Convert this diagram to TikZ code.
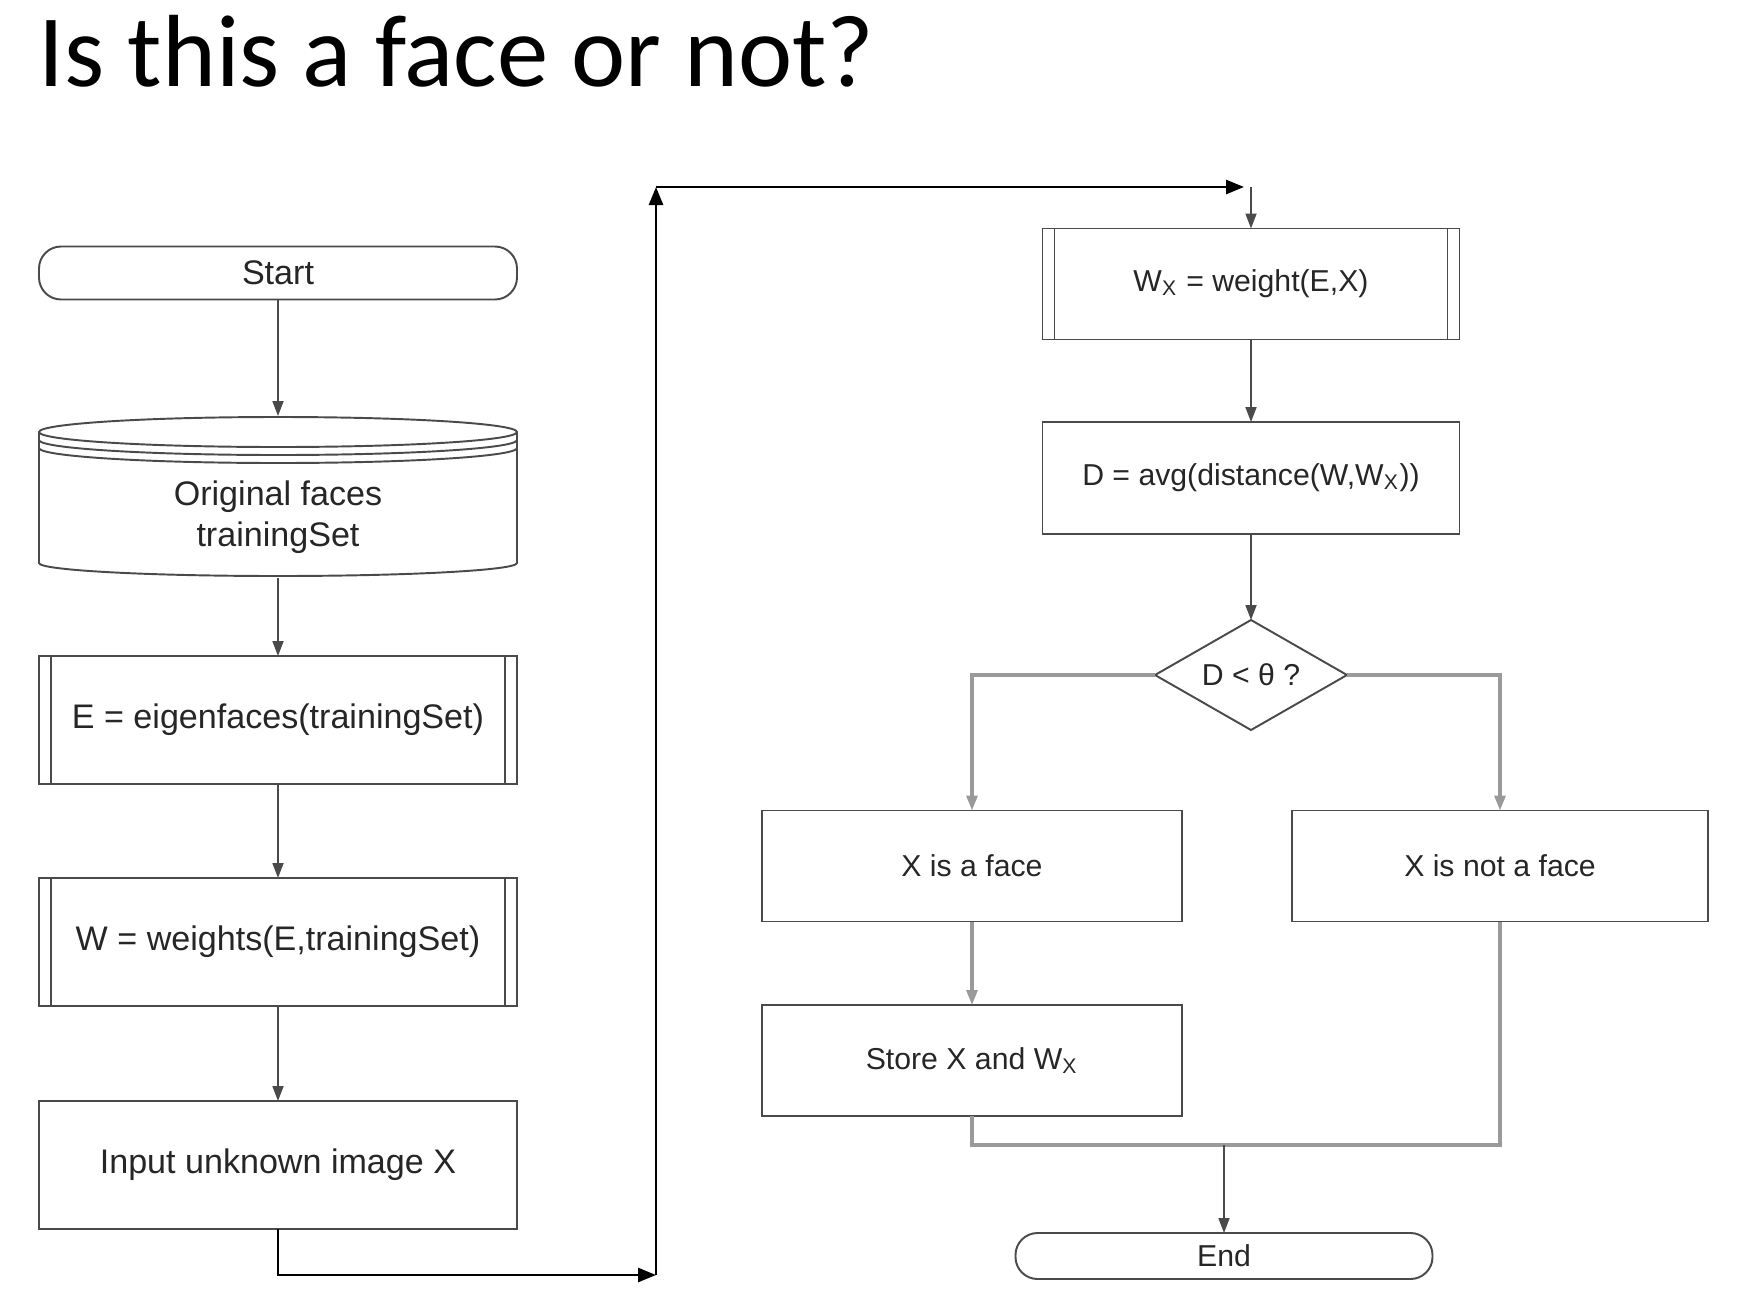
\documentclass[tikz,border=0pt]{standalone}
\usepackage{fontspec}
\setmainfont{Liberation Sans}
\newfontfamily\titlefont{Carlito}
\usepackage{tikz}
\usetikzlibrary{arrows.meta,positioning}
\usetikzlibrary{shapes.geometric}
\definecolor{eLine}{HTML}{4A4A4A}
\definecolor{eGrey}{HTML}{9A9A9A}
\definecolor{eText}{HTML}{262626}
\newcommand{\boxfont}{\fontsize{9.7}{11.7}\selectfont}
\newcommand{\rboxfont}{\fontsize{8.6}{10.4}\selectfont}
\tikzset{p/.style={rectangle, draw=eLine, line width=0.55pt, inner sep=0pt,
  outer sep=0pt, text=eText, font=\boxfont, align=center}}
\tikzset{pp/.style={p, path picture={
  \draw[eLine, line width=0.55pt]
    ([xshift=1.2mm]path picture bounding box.north west) -- ([xshift=1.2mm]path picture bounding box.south west)
    ([xshift=-1.2mm]path picture bounding box.north east) -- ([xshift=-1.2mm]path picture bounding box.south east);}}}
\tikzset{tt/.style={p, rounded corners=2.2mm}}
\tikzset{dd/.style={p, diamond, aspect=1.75}}
\tikzset{rr/.style={font=\rboxfont}}
\tikzset{ll/.style={draw=eLine, line width=0.55pt}}
\tikzset{a/.style={draw, eLine, line width=0.5pt, -{Triangle[length=1.5mm,width=1.1mm]}}}
\tikzset{aa/.style={draw, eGrey, line width=0.9pt}}
\tikzset{ag/.style={aa, -{Triangle[length=1.5mm,width=1.1mm]}}}
\tikzset{k/.style={draw, black, line width=0.75pt, -{Triangle[length=1.8mm,width=1.4mm]}}}

\begin{document}
\begin{tikzpicture}[x=0.1mm, y=-0.1mm]
    \useasboundingbox (0,0) rectangle (1748,1312);
    \node (title) at (38,86) [anchor=base west, inner sep=0pt,
        font=\titlefont\fontsize{29.2}{34}\selectfont] {Is this a face or not?};
    %% left column
    \node (start) at (278,273) [tt, minimum width=47.8mm, minimum height=5.3mm] {Start};
    \node (db) at (278,497) [p, draw=none, minimum width=47.8mm, minimum height=16.2mm] {};
    \node (dbtext) at (278,517) [p, draw=none] {Original faces\\trainingSet};
    \node (e) at (278,720) [pp, minimum width=47.8mm, minimum height=12.8mm] {E = eigenfaces(trainingSet)};
    \node (w) at (278,942) [pp, minimum width=47.8mm, minimum height=12.8mm] {W = weights(E,trainingSet)};
    \node (in) at (278,1165) [p, minimum width=47.8mm, minimum height=12.8mm] {Input unknown image X};
    %% database outline
    \draw [ll] (39,432) -- (39,563) arc [start angle=180, end angle=0, x radius=239, y radius=13] -- (517,432);
    \draw [ll] (278,432) ellipse [x radius=239, y radius=15];
    \draw [ll] (39,440) arc [start angle=180, end angle=0, x radius=239, y radius=15];
    \draw [ll] (39,448) arc [start angle=180, end angle=0, x radius=239, y radius=15];
    %% right column
    \node (wx) at (1251,284) [pp, rr, minimum width=41.7mm, minimum height=11.1mm] {W\textsubscript{X} = weight(E,X)};
    \node (d) at (1251,478) [p, rr, minimum width=41.7mm, minimum height=11.2mm] {D = avg(distance(W,W\textsubscript{X}))};
    \node (dec) at (1251,675) [dd, rr, minimum width=19.2mm, minimum height=11mm] {D < θ ?};
    \node (face) at (972,866) [p, rr, minimum width=42mm, minimum height=11.1mm] {X is a face};
    \node (notface) at (1500,866) [p, rr, minimum width=41.6mm, minimum height=11.1mm] {X is not a face};
    \node (store) at (972,1060.5) [p, rr, minimum width=42mm, minimum height=11.1mm] {Store X and W\textsubscript{X}};
    \node (end) at (1224,1256) [tt, rr, minimum width=41.7mm, minimum height=4.6mm] {End};
    %%
    \coordinate (c2) at (656,1275);
    \coordinate (c3) at (656,187);
    \coordinate (c4) at (1244,187);
    \coordinate (c5) at (1251,187);
    \coordinate (m1) at (972,1145);
    \coordinate (m2) at (1500,1145);
    \coordinate (m) at (1224,1145);
    %%
    \draw [a] (start) to (db);
    \draw [a] (db) to (e);
    \draw [a] (e) to (w);
    \draw [a] (w) to (in);
    %%
    \draw [k] (in) |- (c2);
    \draw [k] (c2) to (c3);
    \draw [k] (c3) to (c4);
    \draw [a] (c5) to (wx);
    %%
    \draw [a] (wx) to (d);
    \draw [a] (d) to (dec);
    \draw [ag] (dec.west) -| (face);
    \draw [ag] (dec.east) -| (notface);
    \draw [ag] (face) to (store);
    \draw [aa] (store) -- (m1) -- (m2) -- (notface);
    \draw [a] (m) to (end);
\end{tikzpicture}
\end{document}
